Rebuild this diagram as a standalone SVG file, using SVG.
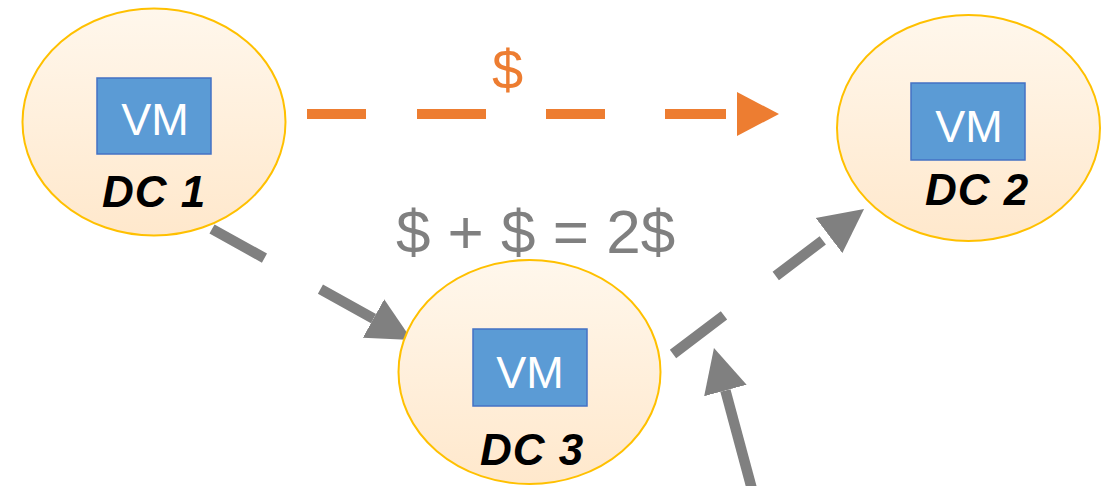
<svg xmlns="http://www.w3.org/2000/svg" width="1109" height="486" viewBox="0 0 1109 486">
<style>
.dc{stroke:#FFC000;stroke-width:2;fill:url(#g)}
.vm{fill:#5B9BD5;stroke:#4472C4;stroke-width:1.5}
.vmt{font-family:"Liberation Sans",Arial,sans-serif;font-size:45px;fill:#fff;text-anchor:middle}
.lbl{font-family:"Liberation Sans",Arial,sans-serif;font-size:44px;font-weight:bold;font-style:italic;fill:#000;text-anchor:middle;letter-spacing:1px}
.gray{stroke:#808080;stroke-width:10.5;fill:none}
.cost{font-family:"Liberation Sans",Arial,sans-serif;text-anchor:middle}
</style>
<defs>
<linearGradient id="g" x1="0" y1="0" x2="0" y2="1">
<stop offset="0" stop-color="#FFF7EC"/>
<stop offset="1" stop-color="#FFE8CC"/>
</linearGradient>
<marker id="ag" markerUnits="userSpaceOnUse" viewBox="0 -23 45 46" refX="0" refY="0" markerWidth="45" markerHeight="46" orient="auto">
<path d="M0,-22 L44,0 L0,22 z" fill="#808080"/>
</marker>
<marker id="ao" markerUnits="userSpaceOnUse" viewBox="0 -23 55 46" refX="0" refY="0" markerWidth="55" markerHeight="46" orient="auto">
<path d="M11,-22 L53,0 L11,22 z" fill="#ED7D31"/>
</marker>
</defs>
<g id="connectors">
<line x1="307" y1="114" x2="726" y2="114" stroke="#ED7D31" stroke-width="10" stroke-dasharray="59 51 69 60 59 60 61 100" marker-end="url(#ao)"/>
<line class="gray" x1="212" y1="229" x2="373.5" y2="318.6" stroke-dasharray="60 64 61 100" marker-end="url(#ag)"/>
<line class="gray" x1="673" y1="354" x2="829" y2="235.6" stroke-dasharray="64 65 59 100" marker-end="url(#ag)"/>
<line class="gray" x1="753" y1="493" x2="725.4" y2="390.5" marker-end="url(#ag)"/>
</g>
<g id="dc1">
<ellipse class="dc" cx="154" cy="122" rx="131.5" ry="113.5"/>
<rect class="vm" x="97" y="78" width="114" height="76"/>
<text class="vmt" x="155" y="135">VM</text>
<text class="lbl" x="154" y="207">DC 1</text>
</g>
<g id="dc2">
<ellipse class="dc" cx="968.5" cy="128" rx="131.5" ry="113"/>
<rect class="vm" x="911" y="83" width="114" height="77"/>
<text class="vmt" x="969" y="142">VM</text>
<text class="lbl" x="977" y="205">DC 2</text>
</g>
<g id="dc3">
<ellipse class="dc" cx="529.5" cy="372" rx="131" ry="112"/>
<rect class="vm" x="473" y="329" width="114" height="77"/>
<text class="vmt" x="530" y="388">VM</text>
<text class="lbl" x="532" y="465">DC 3</text>
</g>
<text class="cost" x="507.5" y="89" font-size="56" fill="#ED7D31">$</text>
<text class="cost" x="535.5" y="253" font-size="62" fill="#808080">$ + $ = 2$</text>
</svg>
